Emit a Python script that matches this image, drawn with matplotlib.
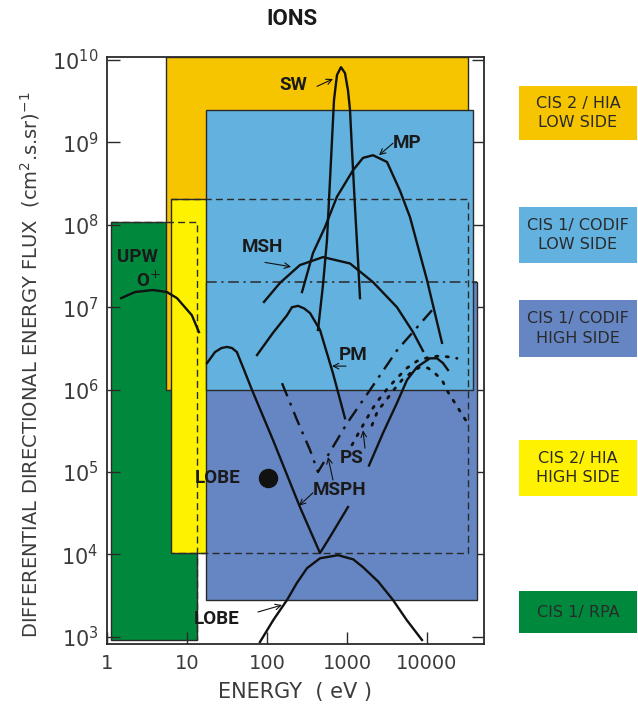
import matplotlib.pyplot as plt
from matplotlib.patches import Rectangle

plt.rcParams['font.family'] = ['DejaVu Sans']

# instrument ranges: energy (eV) and flux limits
inst_names = ['CIS 1/ RPA', 'CIS 2 / HIA\nLOW SIDE', 'CIS 2/ HIA\nHIGH SIDE',
              'CIS 1/ CODIF\nHIGH SIDE', 'CIS 1/ CODIF\nLOW SIDE']
inst_emin = [1.12, 5.5, 6.3, 17.3, 17.3]
inst_emax = [13.5, 32500, 32500, 42000, 37500]
inst_fmin = [920, 1e6, 1.04e4, 2.8e3, 1e6]
inst_fmax = [1.08e8, 1.09e10, 2.06e8, 2.0e7, 2.5e9]
inst_colors = ['#00893d', '#f6c500', '#fff200', '#6586c3', '#62b1de']

# plasma regions
upw_e = [1.5, 2.24, 3.76, 5.6, 7.5, 11.5, 14.1]
upw_f = [1.29e7, 1.53e7, 1.62e7, 1.53e7, 1.29e7, 8e6, 5e6]

sw_e = [434, 501, 562, 631, 688, 750, 841, 944, 1029, 1090, 1155, 1259, 1372, 1454]
sw_f = [5.3e6, 1.86e7, 6.5e7, 6.1e8, 3.27e9, 6.6e9, 8.2e9, 6.95e9, 4.3e9, 2.5e9,
        8.1e8, 1.64e8, 3.74e7, 1.29e7]

mp_e = [274, 376, 531, 750, 1189, 1585, 2113, 3162, 4597, 6131, 10000, 15400]
mp_f = [1.53e7, 4.55e7, 9.4e7, 2.2e8, 4.6e8, 6.5e8, 7e8, 5.8e8, 2.6e8, 1.24e8, 2.14e7, 3.7e6]

msh_e = [91.7, 145, 258, 501, 1090, 2113, 4217, 6683, 8913]
msh_f = [1.16e7, 1.97e7, 3.25e7, 4.06e7, 3.4e7, 2.02e7, 1e7, 5e6, 2.95e6]

pm_e = [75, 119, 178, 205, 244, 290, 345, 460, 668, 944]
pm_f = [2.63e6, 4.9e6, 8e6, 1e7, 1.04e7, 9.7e6, 8.5e6, 5.3e6, 1.58e6, 4.5e5]

msph_e = [17.8, 22.4, 27, 31.6, 36.5, 42, 50, 65, 119, 258, 460, 613, 1029]
msph_f = [2.1e6, 2.86e6, 3.2e6, 3.3e6, 3.2e6, 2.86e6, 1.88e6, 9.9e5, 2.44e5, 3.76e4,
          1.04e4, 1.63e4, 3.76e4]

msph2_e = [154, 237, 345, 434, 1000, 1939, 4217, 11550]
msph2_f = [1.2e6, 4.3e5, 1.85e5, 1e5, 3.9e5, 9.9e5, 3e6, 9.2e6]

ps_e = [1884, 2818, 4217, 5623, 7499, 10900, 13335, 15850, 18300]
ps_f = [1.2e5, 2.97e5, 6.9e5, 1.31e6, 1.88e6, 2.4e6, 2.4e6, 2.1e6, 1.73e6]

psa_e = [1155, 1454, 1778, 2113, 2585, 3255, 4217, 5623, 7499, 10900, 14540, 18300, 23700]
psa_f = [2.13e5, 3.2e5, 4.5e5, 6e5, 7.9e5, 1.05e6, 1.38e6, 1.83e6, 2.22e6, 2.5e6, 2.56e6, 2.5e6, 2.4e6]

psb_e = [2054, 2441, 2985, 3652, 4870, 6494, 8171, 10290, 12590, 15400, 18300, 21130, 24400, 30730]
psb_f = [3.7e5, 5.65e5, 7.08e5, 9.35e5, 1.31e6, 1.64e6, 1.88e6, 1.83e6, 1.58e6, 1.31e6,
         9.35e5, 7.5e5, 6e5, 4.2e5]

lobe_e = [81.7, 120, 178, 235, 316, 460, 772, 1199, 1585, 2460, 3758, 5570, 8660]
lobe_f = [865, 1.6e3, 2.8e3, 4.46e3, 6.8e3, 8.97e3, 9.8e3, 8.7e3, 7e3, 4.67e3, 2.8e3, 1.6e3, 915]

lobe_pt_e = 103
lobe_pt_f = 8.45e4

fig = plt.figure(figsize=(6.38, 7.10), dpi=100)
ax = fig.add_axes([107/638, 66/710, 377/638, 587/710])
ax.set_xscale('log')
ax.set_yscale('log')
ax.set_xlim(1, 51600)
ax.set_ylim(818, 1.09e10)

edge = '#2a2a2a'
# draw order: green, orange, yellow, dark blue, light blue
for i in [0, 1, 2, 3, 4]:
    ax.add_patch(Rectangle((inst_emin[i], inst_fmin[i]), inst_emax[i] - inst_emin[i],
                           inst_fmax[i] - inst_fmin[i], facecolor=inst_colors[i],
                           edgecolor=edge, lw=1.0, zorder=1 + i))

# hidden outlines
dash = (0, (5, 3))
ax.plot([inst_emin[0], inst_emax[0], inst_emax[0]], [inst_fmax[0], inst_fmax[0], inst_fmin[0]],
        color=edge, lw=1.0, ls=dash, zorder=6)
ax.plot([inst_emin[2], inst_emax[2], inst_emax[2], inst_emin[2]],
        [inst_fmax[2], inst_fmax[2], inst_fmin[2], inst_fmin[2]],
        color=edge, lw=1.0, ls=dash, zorder=6)
ax.plot([inst_emin[3], inst_emax[3]], [inst_fmax[3], inst_fmax[3]],
        color=edge, lw=1.1, ls=(0, (7, 3, 1.5, 3)), zorder=6)

lc = '#111111'
lw = 1.7
ax.plot(upw_e, upw_f, color=lc, lw=lw, zorder=7)
ax.plot(sw_e, sw_f, color=lc, lw=lw, zorder=7)
ax.plot(mp_e, mp_f, color=lc, lw=lw, zorder=7)
ax.plot(msh_e, msh_f, color=lc, lw=lw, zorder=7)
ax.plot(pm_e, pm_f, color=lc, lw=lw, zorder=7)
ax.plot(msph_e, msph_f, color=lc, lw=lw, zorder=7)
ax.plot(msph2_e, msph2_f, color=lc, lw=lw, ls=(0, (6, 3, 1.2, 3)), zorder=7)
ax.plot(ps_e, ps_f, color=lc, lw=lw, zorder=7)
ax.plot(psa_e, psa_f, color=lc, lw=2.0, ls=(0, (0.8, 3)), dash_capstyle='round', zorder=7)
ax.plot(psb_e, psb_f, color=lc, lw=2.0, ls=(0, (0.8, 3)), dash_capstyle='round', zorder=7)
ax.plot(lobe_e, lobe_f, color=lc, lw=lw, zorder=7)
ax.plot([lobe_pt_e], [lobe_pt_f], 'o', color=lc, ms=13, zorder=7)

# labels
lab = dict(fontsize=13.5, fontweight='bold', color='#1a1a1a', family=['Roboto', 'DejaVu Sans'],
           ha='center', va='center', zorder=8)
arr = dict(arrowstyle='->', color=lc, lw=0.8, shrinkA=0, shrinkB=0)
ax.text(211, 5e9, 'SW', **lab)
ax.annotate('', xy=(668, 5.9e9), xytext=(422, 4.8e9), arrowprops=arr, zorder=8)
ax.text(5623, 9.8e8, 'MP', **lab)
ax.annotate('', xy=(2512, 7e8), xytext=(3758, 9.8e8), arrowprops=arr, zorder=8)
ax.text(86.6, 5.4e7, 'MSH', **lab)
ax.annotate('', xy=(200, 3.1e7), xytext=(94.4, 3.5e7), arrowprops=arr, zorder=8)
ax.text(1189, 2.63e6, 'PM', **lab)
ax.annotate('', xy=(649, 1.93e6), xytext=(971, 1.93e6), arrowprops=arr, zorder=8)
ax.text(1155, 1.48e5, 'PS', **lab)
ax.annotate('', xy=(1585, 3.2e5), xytext=(1679, 1.95e5), arrowprops=arr, zorder=8)
ax.text(817, 6e4, 'MSPH', **lab)
ax.annotate('', xy=(251, 3.9e4), xytext=(376, 5.6e4), arrowprops=arr, zorder=8)
ax.annotate('', xy=(579, 1.52e5), xytext=(668, 8e4), arrowprops=arr, zorder=8)
ax.text(24.4, 8.45e4, 'LOBE', **lab)
ax.text(23.7, 1.64e3, 'LOBE', **lab)
ax.annotate('', xy=(154, 2.43e3), xytext=(77, 2e3), arrowprops=arr, zorder=8)
ax.text(2.37, 4.06e7, 'UPW', **lab)
ax.text(3.25, 2.08e7, 'O$^{+}$', **lab)

# axes styling
tc = '#3c3c3c'
ax.set_xticks([1, 10, 100, 1000, 10000])
ax.set_xticklabels(['1', '10', '100', '1000', '10000'])
ax.set_yticks([1e3, 1e4, 1e5, 1e6, 1e7, 1e8, 1e9, 1e10])
ax.set_yticklabels(['10$^{%d}$' % k for k in range(3, 11)])
ax.minorticks_off()
ax.tick_params(axis='both', direction='in', length=9, width=1.0, color=edge, labelcolor=tc)
ax.tick_params(axis='y', right=True, labelsize=15, pad=6)
ax.tick_params(axis='x', labelsize=14, pad=7)
for s in ax.spines.values():
    s.set_linewidth(1.3)
    s.set_color(edge)
    s.set_zorder(9)

fig.text(292/638, 1 - 19/710, 'IONS', fontsize=16, fontweight='bold', ha='center', va='center',
         family=['Roboto', 'DejaVu Sans'], color='#1a1a1a')
fig.text(295/638, 1 - 692/710, 'ENERGY  ( eV )', fontsize=15, ha='center', va='center', color=tc)
fig.text(30/638, 1 - 365/710, 'DIFFERENTIAL DIRECTIONAL ENERGY FLUX  (cm$^{2}$.s.sr)$^{-1}$',
         fontsize=14, rotation=90, ha='center', va='center', color=tc)

# legend boxes on the right, top to bottom
order = [1, 4, 3, 2, 0]
box_top = [86, 207, 300, 440, 591]
box_h = [54, 56, 57, 56, 42]
for k, i in enumerate(order):
    y0 = 1 - (box_top[k] + box_h[k]) / 710
    fig.patches.append(Rectangle((519/638, y0), 118/638, box_h[k]/710, transform=fig.transFigure,
                                 facecolor=inst_colors[i], edgecolor='none'))
    fig.text(578/638, y0 + box_h[k]/710/2, inst_names[i], fontsize=11.5, ha='center', va='center',
             color='#2a2a2a', linespacing=1.35)

fig.savefig('out.png', dpi=100)
